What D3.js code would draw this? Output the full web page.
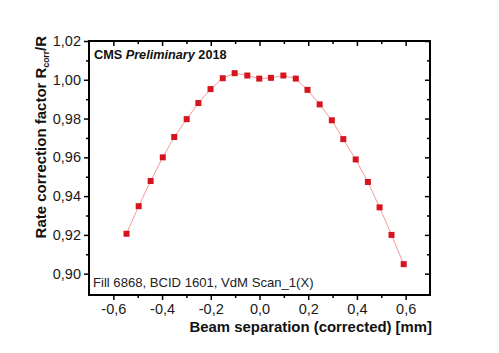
<!DOCTYPE html>
<html>
<head>
<meta charset="utf-8">
<script src="https://cdn.jsdelivr.net/npm/d3@7"></script>
<style>
  body { margin: 0; background: #fff; }
  svg { font-family: "Liberation Sans", Arial, sans-serif; }
</style>
</head>
<body>
<script>

const separation = [-0.546, -0.496, -0.447, -0.397, -0.350, -0.299, -0.251, -0.201, -0.151, -0.102, -0.050, -0.001,
                    0.047, 0.098, 0.149, 0.197, 0.247, 0.297, 0.344, 0.395, 0.445, 0.493, 0.542, 0.592];
const correction = [0.9206, 0.9348, 0.9478, 0.9600, 0.9705, 0.9797, 0.9880, 0.9952, 1.0008, 1.0034, 1.0022, 1.0006,
                    1.0010, 1.0022, 1.0006, 0.9948, 0.9873, 0.9791, 0.9694, 0.9589, 0.9473, 0.9342, 0.9200, 0.9049];

//Tick values for both axes

const xTicks = [-0.6, -0.4, -0.2, 0.0, 0.2, 0.4, 0.6];
const xMinor = [-0.5, -0.3, -0.1, 0.1, 0.3, 0.5];
const yTicks = [0.90, 0.92, 0.94, 0.96, 0.98, 1.00, 1.02];
const yMinor = [0.91, 0.93, 0.95, 0.97, 0.99, 1.01];

const width = 499;
const height = 353;
const plotLeft = 89, plotRight = 430, plotTop = 41, plotBottom = 295;

var svg = d3.select("body")
  .append("svg")
  .attr("width", width)
  .attr("height", height);

var x = d3.scaleLinear()
  .domain([-0.7, 0.7])
  .range([plotLeft, plotRight]);

var y = d3.scaleLinear()
  .domain([0.889, 1.02])
  .range([plotBottom, plotTop]);

//comma decimal separator like the original, plain hyphen for minus
var fmtY = function (d) { return d3.format(".2f")(d).replace(".", ","); };
var fmtX = function (d) { return d3.format(".1f")(d).replace(".", ",").replace("\u2212", "-"); };

function noDomain(g) { g.select(".domain").remove(); }

//Left and bottom axes with outward ticks and labels

svg.append("g")
  .attr("transform", "translate(" + plotLeft + ",0)")
  .call(d3.axisLeft(y).tickValues(yTicks).tickSize(5).tickPadding(3).tickFormat(fmtY))
  .call(noDomain);

svg.append("g")
  .attr("transform", "translate(" + plotLeft + ",0)")
  .call(d3.axisLeft(y).tickValues(yMinor).tickSize(3).tickFormat(""))
  .call(noDomain);

svg.append("g")
  .attr("transform", "translate(0," + plotBottom + ")")
  .call(d3.axisBottom(x).tickValues(xTicks).tickSize(5).tickPadding(4).tickFormat(fmtX))
  .call(noDomain);

svg.append("g")
  .attr("transform", "translate(0," + plotBottom + ")")
  .call(d3.axisBottom(x).tickValues(xMinor).tickSize(3).tickFormat(""))
  .call(noDomain);

//Mirrored ticks on top and right, pointing inside

svg.append("g")
  .attr("transform", "translate(0," + plotTop + ")")
  .call(d3.axisBottom(x).tickValues(xTicks).tickSize(5).tickFormat(""))
  .call(noDomain);

svg.append("g")
  .attr("transform", "translate(0," + plotTop + ")")
  .call(d3.axisBottom(x).tickValues(xMinor).tickSize(3).tickFormat(""))
  .call(noDomain);

svg.append("g")
  .attr("transform", "translate(" + plotRight + ",0)")
  .call(d3.axisLeft(y).tickValues(yTicks).tickSize(5).tickFormat(""))
  .call(noDomain);

svg.append("g")
  .attr("transform", "translate(" + plotRight + ",0)")
  .call(d3.axisLeft(y).tickValues(yMinor).tickSize(3).tickFormat(""))
  .call(noDomain);

svg.selectAll(".tick line").attr("stroke", "#000").attr("stroke-width", 1.5);
svg.selectAll(".tick text").attr("fill", "#1a1a1a").style("font-size", "14.5px")
  .style("font-family", "'Liberation Sans', Arial, sans-serif");

//Frame round the plot

svg.append("rect")
  .attr("x", plotLeft)
  .attr("y", plotTop)
  .attr("width", plotRight - plotLeft)
  .attr("height", plotBottom - plotTop)
  .attr("fill", "none")
  .attr("stroke", "#000")
  .attr("stroke-width", 2);

//Connecting line and the square markers

var points = separation.map(function (d, i) { return [d, correction[i]]; });

svg.append("path")
  .datum(points)
  .attr("fill", "none")
  .attr("stroke", "#f29a9a")
  .attr("stroke-width", 1)
  .attr("d", d3.line()
    .x(function (d) { return x(d[0]); })
    .y(function (d) { return y(d[1]); }));

svg.selectAll(".pt")
  .data(points)
  .enter()
  .append("rect")
  .attr("class", "pt")
  .attr("x", function (d) { return x(d[0]) - 3; })
  .attr("y", function (d) { return y(d[1]) - 3; })
  .attr("width", 6)
  .attr("height", 6)
  .attr("fill", "#d6141e");

//Labels inside the plot

var cms = svg.append("text")
  .attr("x", 94)
  .attr("y", 59)
  .style("font-size", "12.7px")
  .style("font-weight", "bold")
  .attr("fill", "#111");
cms.append("tspan").text("CMS ");
cms.append("tspan").style("font-style", "italic").text("Preliminary");
cms.append("tspan").text(" 2018");

svg.append("text")
  .attr("x", 93)
  .attr("y", 287)
  .style("font-size", "13.1px")
  .attr("fill", "#222")
  .text("Fill 6868, BCID 1601, VdM Scan_1(X)");

//Axis titles

svg.append("text")
  .attr("x", 432)
  .attr("y", 332)
  .style("text-anchor", "end")
  .style("font-size", "14.9px")
  .style("font-weight", "bold")
  .attr("fill", "#111")
  .text("Beam separation (corrected) [mm]");

var yt = svg.append("text")
  .attr("transform", "translate(46,36) rotate(-90)")
  .style("text-anchor", "end")
  .style("font-size", "15px")
  .style("font-weight", "bold")
  .attr("fill", "#111");
yt.append("tspan").text("Rate correction factor R");
yt.append("tspan").attr("dy", 3).style("font-size", "8.5px").text("corr");
yt.append("tspan").attr("dy", -3).text("/R");
</script>
</body>
</html>
